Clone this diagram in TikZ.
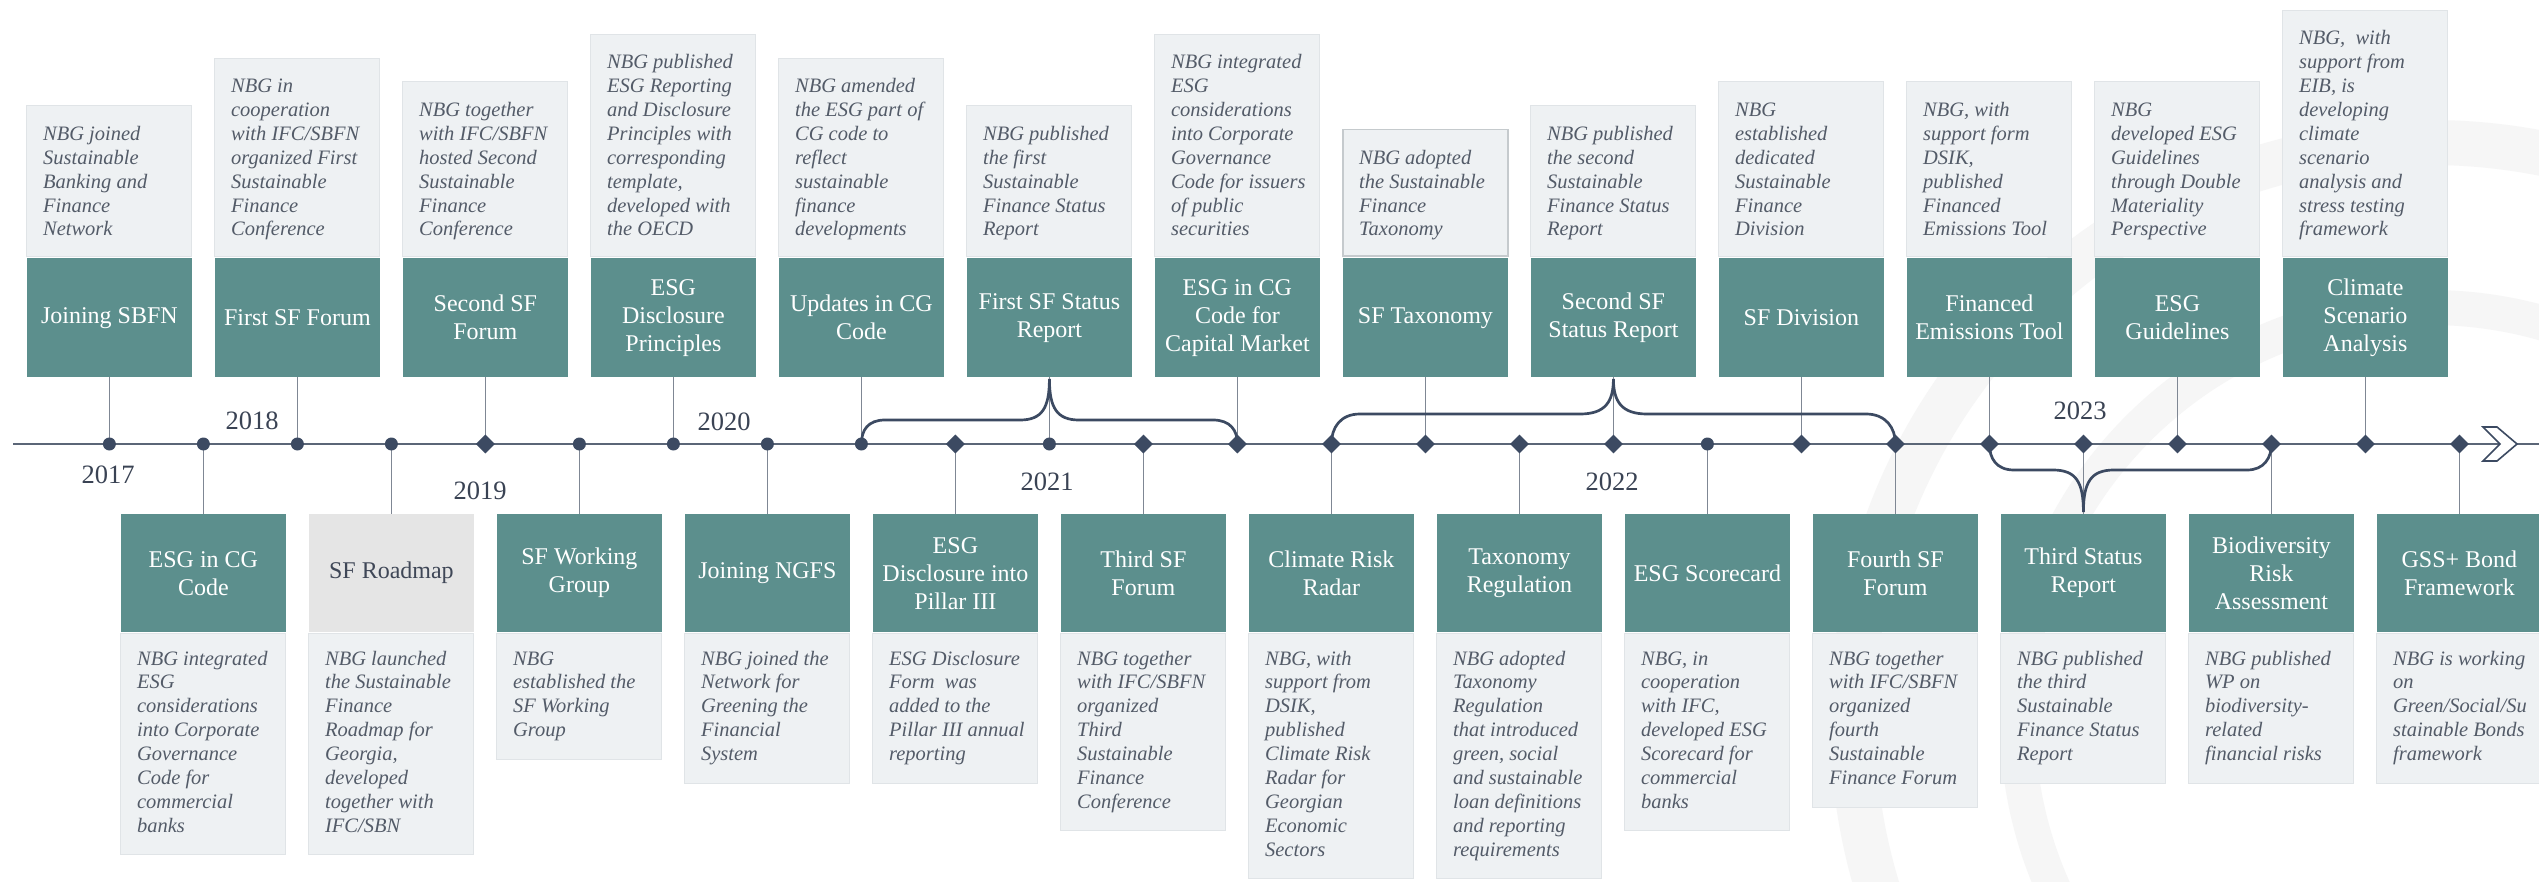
\documentclass[tikz,border=0pt]{standalone}
\usepackage{fontspec}
\setmainfont{Liberation Serif}
\usetikzlibrary{shapes.geometric,calc}
\definecolor{tealc}{HTML}{5C8F8D}
\definecolor{lightc}{HTML}{EEF1F3}
\definecolor{lightborder}{HTML}{E0E4E7}
\definecolor{desccol}{HTML}{535B68}
\definecolor{yearcol}{HTML}{3A4354}
\definecolor{dotcol}{HTML}{3C4A62}
\definecolor{linecol}{HTML}{5B6677}
\definecolor{stemcol}{HTML}{7F8794}
\definecolor{roadgray}{HTML}{E5E5E5}
\definecolor{roadtext}{HTML}{3F4757}
\definecolor{taxborder}{HTML}{C5CACD}
\definecolor{wmcol}{HTML}{F6F6F6}
\newcommand\descfont{\fontsize{20.5}{23.9}\selectfont\itshape}
\newcommand\ttlfont{\fontsize{24}{28}\selectfont}
\newcommand\yrfont{\fontsize{26.5}{30}\selectfont}
\tikzset{
  lbox/.style={fill=lightc, draw=lightborder, line width=1pt, minimum width=165, inner sep=0},
  desc/.style={anchor=base west, inner sep=0pt, align=left, text=desccol, font=\descfont},
  tbox/.style={fill=tealc, text=white, font=\ttlfont, align=center, minimum width=165, minimum height=119, inner sep=0},
  roadmap/.style={fill=roadgray, text=roadtext},
  taxo/.style={draw=taxborder, line width=1.5pt},
  stem/.style={draw=stemcol, line width=1.3pt},
  mainline/.style={draw=linecol, line width=2pt},
  brace/.style={draw=dotcol, line width=2.7pt},
  yr/.style={font=\yrfont, text=yearcol, inner sep=0},
  cdot/.style={circle, fill=dotcol, minimum size=13, inner sep=0},
  ddot/.style={diamond, fill=dotcol, minimum width=19, minimum height=19, inner sep=0},
}
% top event: [lightbox style]{index}{lines}{title}{description}
% (the base of a multi-line node is the baseline of its last line)
\newcommand\TopEv[5][]{%
  \pgfmathsetmacro\evx{109.4+94*#2}%
  \pgfmathsetmacro\evtop{202-(#3-1)*23.9}%
  \node[lbox, #1, anchor=south, minimum height={257-\evtop}] (e#2-box) at (\evx,257) {};
  \node[desc] (e#2-txt) at ({\evx-66.5},236) {#5};
  \node[tbox, anchor=north] (e#2) at (\evx,258) {#4};
  \draw[stem] (e#2.south) -- (p#2);
}
% bottom event: [title style]{index}{lines}{title}{description}
\newcommand\BotEv[5][]{%
  \pgfmathsetmacro\evx{109.4+94*#2}%
  \pgfmathsetmacro\evbot{687+(#3-1)*23.9}%
  \node[tbox, #1, anchor=north, minimum height=118] (e#2) at (\evx,514) {#4};
  \node[lbox, anchor=north, minimum height={\evbot-633}] (e#2-box) at (\evx,633) {};
  \node[desc] (e#2-txt) at ({\evx-66.5},{665+(#3-1)*23.9}) {#5};
  \draw[stem] (p#2) -- (e#2.north);
}
\begin{document}
\begin{tikzpicture}[x=1pt,y=-1pt]
\useasboundingbox (0,0) rectangle (2539,882);
\fill[white] (0,0) rectangle (2539,882);
% faint watermark
\fill[wmcol, even odd rule] (2430,720) circle[radius=600] (2430,720) circle[radius=555];
\fill[wmcol, even odd rule] (2430,720) circle[radius=430] (2430,720) circle[radius=395];
% timeline
\foreach \i in {0,...,25} \coordinate (p\i) at ({109.4+94*\i},444);
\coordinate (lstart) at (13,444);
\coordinate (lend) at (2539,444);
\draw[mainline] (lstart) -- (lend);
\draw[draw=dotcol, line width=1.6pt, fill=white, line join=miter] (2483,427) -- (2497,427) -- (2517,444) -- (2497,461) -- (2483,461) -- (2500,444) -- cycle;
% years
\node[yr] (y2017) at (108,475) {2017};
\node[yr] (y2018) at (252,421) {2018};
\node[yr] (y2019) at (480,491) {2019};
\node[yr] (y2020) at (724,422) {2020};
\node[yr] (y2021) at (1047,482) {2021};
\node[yr] (y2022) at (1612,482) {2022};
\node[yr] (y2023) at (2080,411) {2023};
% top events
\TopEv{0}{5}{Joining SBFN}{NBG joined\\Sustainable\\Banking and\\Finance\\Network}
\TopEv{2}{7}{First SF Forum}{NBG in\\cooperation\\with IFC/SBFN\\organized First\\Sustainable\\Finance\\Conference}
\TopEv{4}{6}{Second SF\\Forum}{NBG together\\with IFC/SBFN\\hosted Second\\Sustainable\\Finance\\Conference}
\TopEv{6}{8}{ESG\\Disclosure\\Principles}{NBG published\\ESG Reporting\\and Disclosure\\Principles with\\corresponding\\template,\\developed with\\the OECD}
\TopEv{8}{7}{Updates in CG\\Code}{NBG amended\\the ESG part of\\CG code to\\reflect\\sustainable\\finance\\developments}
\TopEv{10}{5}{First SF Status\\Report}{NBG published\\the first\\Sustainable\\Finance Status\\Report}
\TopEv{12}{8}{ESG in CG\\Code for\\Capital Market}{NBG integrated\\ESG\\considerations\\into Corporate\\Governance\\Code for issuers\\of public\\securities}
\TopEv[taxo]{14}{4}{SF Taxonomy}{NBG adopted\\the Sustainable\\Finance\\Taxonomy}
\TopEv{16}{5}{Second SF\\Status Report}{NBG published\\the second\\Sustainable\\Finance Status\\Report}
\TopEv{18}{6}{SF Division}{NBG\\established\\dedicated\\Sustainable\\Finance\\Division}
\TopEv{20}{6}{Financed\\Emissions Tool}{NBG, with\\support form\\DSIK,\\published\\Financed\\Emissions Tool}
\TopEv{22}{6}{ESG\\Guidelines}{NBG\\developed ESG\\Guidelines\\through Double\\Materiality\\Perspective}
\TopEv{24}{9}{Climate\\Scenario\\Analysis}{NBG,~ with\\support from\\EIB, is\\developing\\climate\\scenario\\analysis and\\stress testing\\framework}
% bottom events
\BotEv{1}{8}{ESG in CG\\Code}{NBG integrated\\ESG\\considerations\\into Corporate\\Governance\\Code for\\commercial\\banks}
\BotEv[roadmap]{3}{8}{SF Roadmap}{NBG launched\\the Sustainable\\Finance\\Roadmap for\\Georgia,\\developed\\together with\\IFC/SBN}
\BotEv{5}{4}{SF Working\\Group}{NBG\\established the\\SF Working\\Group}
\BotEv{7}{5}{Joining NGFS}{NBG joined the\\Network for\\Greening the\\Financial\\System}
\BotEv{9}{5}{ESG\\Disclosure into\\Pillar III}{ESG Disclosure\\Form~ was\\added to the\\Pillar III annual\\reporting}
\BotEv{11}{7}{Third SF\\Forum}{NBG together\\with IFC/SBFN\\organized\\Third\\Sustainable\\Finance\\Conference}
\BotEv{13}{9}{Climate Risk\\Radar}{NBG, with\\support from\\DSIK,\\published\\Climate Risk\\Radar for\\Georgian\\Economic\\Sectors}
\BotEv{15}{9}{Taxonomy\\Regulation}{NBG adopted\\Taxonomy\\Regulation\\that introduced\\green, social\\and sustainable\\loan definitions\\and reporting\\requirements}
\BotEv{17}{7}{ESG Scorecard}{NBG, in\\cooperation\\with IFC,\\developed ESG\\Scorecard for\\commercial\\banks}
\BotEv{19}{6}{Fourth SF\\Forum}{NBG together\\with IFC/SBFN\\organized\\fourth\\Sustainable\\Finance Forum}
\BotEv{21}{5}{Third Status\\Report}{NBG published\\the third\\Sustainable\\Finance Status\\Report}
\BotEv{23}{5}{Biodiversity\\Risk\\Assessment}{NBG published\\WP on\\biodiversity-\\related\\financial risks}
\BotEv{25}{5}{GSS+ Bond\\Framework}{NBG is working\\on\\Green/Social/Su\\stainable Bonds\\framework}
% braces
\draw[brace] (p8) .. controls (861.4,430) and (868,420) .. (885,420) -- (1020,420)
  .. controls (1042,420) and (1049.4,408) .. (1049.4,379)
  .. controls (1049.4,408) and (1057,420) .. (1079,420) -- (1213,420)
  .. controls (1230,420) and (1237.4,430) .. (p12);
\draw[brace] (p13) .. controls (1331.4,428) and (1340,414) .. (1360,414) -- (1580,414)
  .. controls (1605,414) and (1613.4,402) .. (1613.4,379)
  .. controls (1613.4,402) and (1622,414) .. (1647,414) -- (1866,414)
  .. controls (1886,414) and (1895.4,428) .. (p19);
\draw[brace] (p20) .. controls (1989.4,458) and (1996,470) .. (2014,470) -- (2053,470)
  .. controls (2076,470) and (2083.4,482) .. (2083.4,512)
  .. controls (2083.4,482) and (2091,470) .. (2114,470) -- (2247,470)
  .. controls (2264,470) and (2271.4,458) .. (p23);
% dots
\foreach \i in {0,1,2,3,5,6,7,8,10,17} \node[cdot] (d\i) at (p\i) {};
\foreach \i in {4,9,11,12,13,14,15,16,18,19,20,21,22,23,24,25} \node[ddot] (d\i) at (p\i) {};
\end{tikzpicture}
\end{document}
